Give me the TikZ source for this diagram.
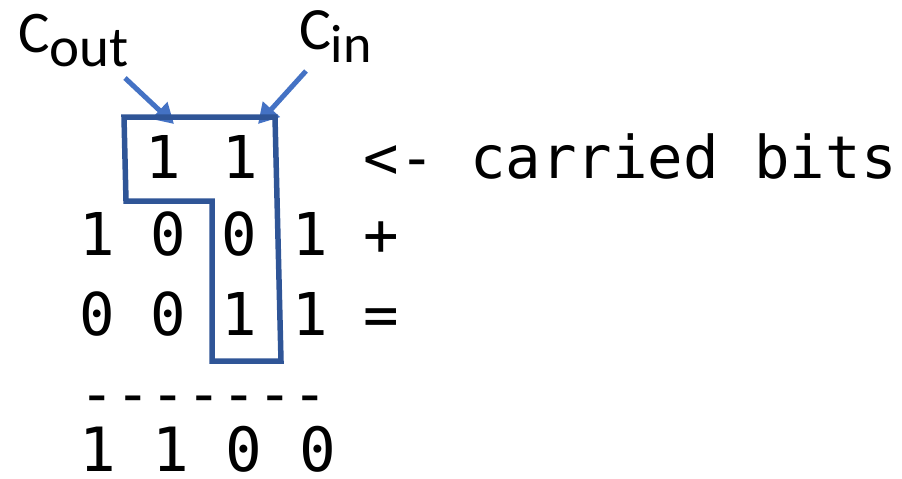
\documentclass[tikz,border=0pt]{standalone}
\usepackage{fontspec}
\usetikzlibrary{arrows.meta}
\newfontfamily\monofam{DejaVu Sans Mono}[WordSpace={1,0,0}]
\newfontfamily\calfam{Carlito}
\definecolor{outlineblue}{HTML}{2F5597}
\definecolor{arrowblue}{HTML}{4472C4}
\begin{document}
\begin{tikzpicture}[x=1pt,y=-1pt,
  mono/.style={inner sep=0pt,outer sep=0pt,font=\monofam\fontsize{59}{59}\selectfont},
  monobig/.style={inner sep=0pt,outer sep=0pt,font=\monofam\fontsize{61}{61}\selectfont},
  lbl/.style={inner sep=0pt,outer sep=0pt,anchor=base west},
  carryarrow/.style={draw=arrowblue,line width=5pt,-{Triangle[length=20pt,width=22pt]}},
  groupline/.style={draw=outlineblue,line width=5.5pt,line join=miter}]
\useasboundingbox (0,0) rectangle (902,479);
% labels
\node[lbl,font=\calfam\fontsize{59}{59}\selectfont] (cout) at (18,52) {C};
\node[lbl,font=\calfam\fontsize{57}{57}\selectfont] (coutsub) at ([yshift=-14pt]cout.base east) {out};
\node[lbl,font=\calfam\fontsize{60}{60}\selectfont] (cin) at (299,49) {C};
\node[lbl,font=\calfam\fontsize{54}{54}\selectfont] (cinsub) at ([yshift=-13pt]cin.base east) {in};
% arrows
\coordinate (coutstart) at (125,78);
\coordinate (couttip) at (174,124);
\coordinate (cinstart) at (306,71);
\coordinate (cintip) at (258,124);
\draw[carryarrow] (coutstart) -- (couttip);
\draw[carryarrow] (cinstart) -- (cintip);
% outline
\draw[groupline] (124,117) -- (275,117) -- (281,361) -- (212,361) -- (212,201) -- (126,201) -- cycle;
% rows
\node[mono,anchor=base] (c1) at (163,178) {1};
\node[mono,anchor=base] (c2) at (240,178) {1};
\node[mono,anchor=base west] (carried) at (363.75,178) {<- carried bits};
\node[mono,anchor=base west] (rowa) at (79.75,255) {1 0 0 1 +};
\node[mono,anchor=base west] (rowb) at (79.75,335) {0 0 1 1 =};
\node[mono,anchor=base west] (rule) at (79.75,414) {-{}-{}-{}-{}-{}-{}-};
\node[monobig,anchor=base west] (result) at (79,471) {1 1 0 0};
\end{tikzpicture}
\end{document}
